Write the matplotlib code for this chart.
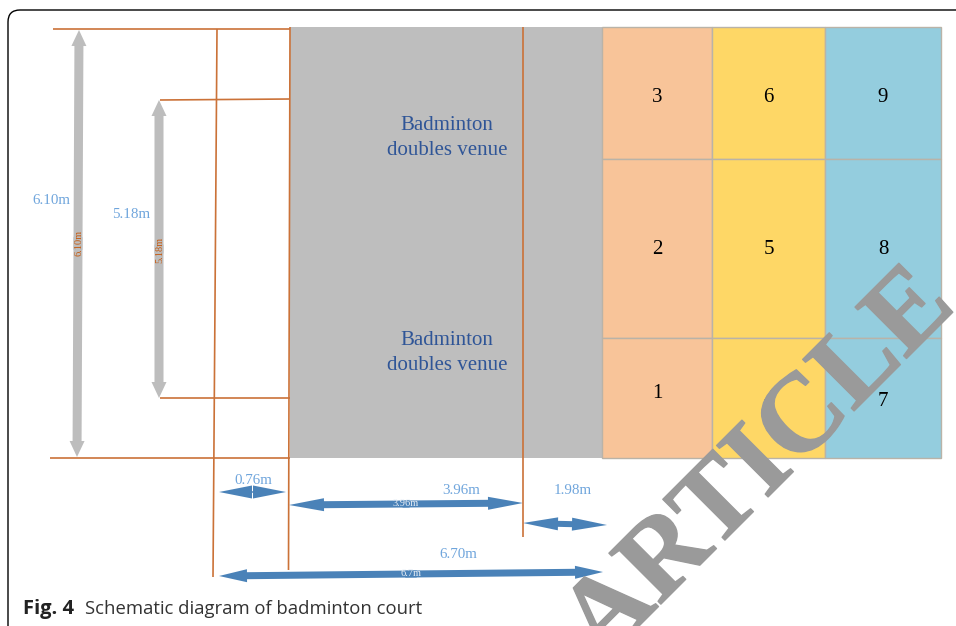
import matplotlib
matplotlib.use('Agg')
import matplotlib.pyplot as plt
import matplotlib.patheffects as pe
from matplotlib.patches import Rectangle, FancyArrow, FancyBboxPatch

W, H = 956, 626

# court layout, in image pixels
venue_x = [290, 602]
venue_y = [27, 458]
col_x = [602, 712, 825, 941]
row_y = [27, 159, 338, 458]
col_colors = ['#f8c499', '#fed766', '#94cdde']
cell_numbers = [['3', '2', '1'], ['6', '5', '4'], ['9', '8', '7']]
number_y = [[97, 250, 394], [97, 250, 400], [97, 250, 401]]
venue_labels = ['Badminton\ndoubles venue', 'Badminton\ndoubles venue']
venue_label_y = [138, 353]

# orange guide lines (x0, y0, x1, y1)
guide_lines = [(53, 29, 290, 29), (50, 458, 290, 458), (160, 100, 290, 99), (160, 398, 290, 398),
               (217, 29, 213, 577), (290, 27, 288.5, 570), (523, 27, 523, 537)]

# double arrows (x0, y0, x1, y1, shaft, head, head length, colour)
arrows = [(79, 30, 77, 457, 9, 15, 16, '#bdbdbd'),
          (159, 100, 159, 398, 9, 15, 16, '#bdbdbd'),
          (219, 492, 286, 492, 1, 13, 33, '#4a82b8'),
          (289, 505, 523, 503, 7, 13, 35, '#4a82b8'),
          (523, 523, 607, 525, 6, 13, 35, '#4a82b8'),
          (219, 576, 603, 572, 7, 13, 28, '#4a82b8')]

dim_labels = ['6.10m', '5.18m', '0.76m', '3.96m', '1.98m', '6.70m']
dim_x = [51, 131, 253, 461, 573, 458]
dim_y = [201, 214, 481, 491, 491, 554]
inner_labels = ['6.10m', '5.18m', '3.96m', '6.7m']
inner_x = [79, 160, 406, 411]
inner_y = [243, 250, 503, 574]
inner_rot = [90, 90, 0, 0]
inner_colors = ['#c55a11', '#c55a11', '#e8eef5', '#e8eef5']

fig = plt.figure(figsize=(W / 100, H / 100), dpi=100)
ax = fig.add_axes([0, 0, 1, 1])
ax.set_xlim(0, W)
ax.set_ylim(H, 0)
ax.axis('off')

# page frame, runs off the right and bottom edge
ax.add_patch(FancyBboxPatch((8, 10), W + 40, H + 40, boxstyle='round,pad=0,rounding_size=12',
                            fc='white', ec='black', lw=1))

ax.add_patch(Rectangle((venue_x[0], venue_y[0]), venue_x[1] - venue_x[0], venue_y[1] - venue_y[0],
                       fc='#bebebe', ec='none'))
for i in range(3):
    for j in range(3):
        ax.add_patch(Rectangle((col_x[i], row_y[j]), col_x[i + 1] - col_x[i], row_y[j + 1] - row_y[j],
                               fc=col_colors[i], ec='#b9b3a8', lw=1))
        ax.text((col_x[i] + col_x[i + 1]) / 2, number_y[i][j], cell_numbers[i][j], family='Liberation Serif',
                fontsize=15, ha='center', va='center', color='black')

for label, y in zip(venue_labels, venue_label_y):
    ax.text(447, y, label, family='Liberation Serif', fontsize=15, color='#2f5597',
            ha='center', va='center', linespacing=1.38)

for x0, y0, x1, y1 in guide_lines:
    ax.plot([x0, x1], [y0, y1], color='#cb7238', lw=1.2, solid_capstyle='butt')

# two heads meeting in the middle make a double arrow, tails overlap a bit so no seam shows
for x0, y0, x1, y1, shaft, head, hlen, c in arrows:
    xm, ym = (x0 + x1) / 2, (y0 + y1) / 2
    for xb, yb in [(x0, y0), (x1, y1)]:
        xa, ya = xm - 0.03 * (xb - xm), ym - 0.03 * (yb - ym)
        ax.add_patch(FancyArrow(xa, ya, xb - xa, yb - ya, width=shaft, head_width=head, head_length=hlen,
                                length_includes_head=True, fc=c, ec='none'))

for label, x, y in zip(dim_labels, dim_x, dim_y):
    ax.text(x, y, label, family='Liberation Serif', fontsize=10.8, color='#6fa5dc', ha='center', va='center')
for label, x, y, r, c in zip(inner_labels, inner_x, inner_y, inner_rot, inner_colors):
    ax.text(x, y, label, family='Liberation Serif', fontsize=7.5, color=c, rotation=r, ha='center', va='center')

# caption
ax.text(23, 609, 'Fig. 4', family='Open Sans', fontweight='bold', fontsize=14.5, color='#222222', va='center')
ax.text(85, 609, 'Schematic diagram of badminton court', family='Open Sans', fontsize=13.3,
        color='#333333', va='center')

# watermark, cut off by the page edge as in the source
ax.text(780, 485, 'ARTICLE', family='Liberation Serif', fontweight='bold', fontsize=80, color='#9a9a9a',
        rotation=45, rotation_mode='anchor', ha='center', va='baseline', clip_on=True,
        path_effects=[pe.withStroke(linewidth=1, foreground='#9a9a9a')])

fig.savefig('out.png', dpi=100)
